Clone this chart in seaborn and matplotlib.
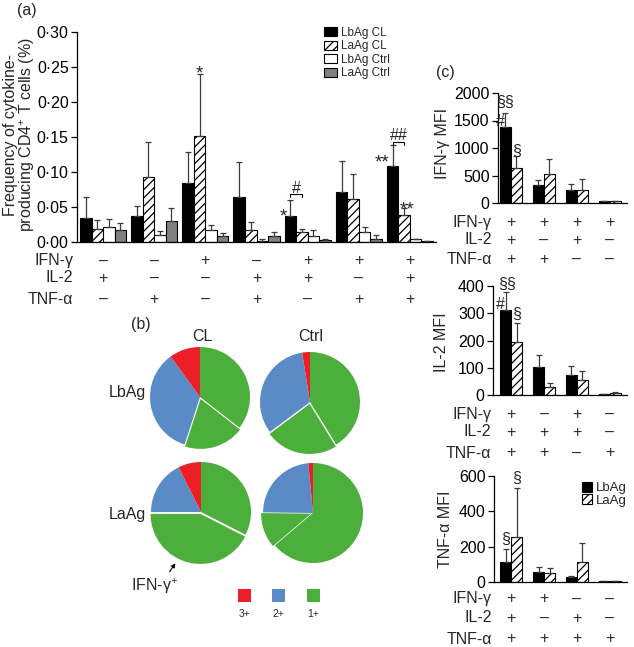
import numpy as np
import pandas as pd
import matplotlib
matplotlib.use('Agg')
import matplotlib.pyplot as plt
import matplotlib.transforms as mtransforms
from matplotlib.patches import Patch, Rectangle
from matplotlib.ticker import FuncFormatter
import seaborn as sns

# ---- panel (a): frequency of cytokine-producing CD4+ T cells
series_a = ['LbAg CL', 'LaAg CL', 'LbAg Ctrl', 'LaAg Ctrl']
combos_a = ['c1', 'c2', 'c3', 'c4', 'c5', 'c6', 'c7']
ifn_row_a = ['–', '–', '+', '–', '+', '+', '+']
il2_row_a = ['+', '–', '–', '+', '+', '–', '+']
tnf_row_a = ['–', '+', '–', '+', '–', '+', '+']

lbag_cl = [0.035, 0.037, 0.085, 0.065, 0.037, 0.072, 0.109]
lbag_cl_sem = [0.029, 0.015, 0.043, 0.050, 0.023, 0.044, 0.029]
laag_cl = [0.018, 0.093, 0.152, 0.017, 0.014, 0.061, 0.039]
laag_cl_sem = [0.013, 0.050, 0.088, 0.011, 0.005, 0.036, 0.009]
lbag_ctrl = [0.022, 0.010, 0.017, 0.002, 0.008, 0.014, 0.004]
lbag_ctrl_sem = [0.011, 0.006, 0.008, 0.002, 0.009, 0.007, 0.001]
laag_ctrl = [0.017, 0.030, 0.008, 0.008, 0.003, 0.005, 0.001]
laag_ctrl_sem = [0.010, 0.018, 0.005, 0.006, 0.001, 0.005, 0.0005]

# ---- panel (b): pie fractions (%), clockwise from 12 o'clock:
# other 1+, IFN-g+ 1+, 2+, 3+
pie_lbag_cl = [35.5, 19.5, 35.0, 10.0]
pie_lbag_ctrl = [41.2, 23.6, 32.7, 2.5]
pie_laag_cl = [32.5, 42.5, 17.6, 7.4]
pie_laag_ctrl = [63.8, 11.4, 23.3, 1.5]
pie_colors = ['#4cae3b', '#4cae3b', '#5b8bc6', '#ed1f26']

# ---- panel (c): MFI
series_c = ['LbAg', 'LaAg']
combos_c = ['p1', 'p2', 'p3', 'p4']
ifn_lb = [1373, 331, 241, 30]
ifn_lb_sem = [272, 91, 108, 5]
ifn_la = [645, 530, 241, 28]
ifn_la_sem = [216, 277, 199, 5]
il2_lb = [311, 103, 73, 2]
il2_lb_sem = [66, 45, 32, 1]
il2_la = [193, 29, 56, 9]
il2_la_sem = [70, 14, 32, 3]
tnf_lb = [111, 55, 26, 7]
tnf_lb_sem = [77, 30, 6, 1]
tnf_la = [252, 51, 113, 5]
tnf_la_sem = [278, 28, 107, 1]

W, H = 634, 647
sns.set_style('ticks')
plt.rcParams['font.family'] = ['Liberation Sans', 'DejaVu Sans']
plt.rcParams['mathtext.fontset'] = 'custom'
plt.rcParams['mathtext.rm'] = 'Liberation Sans'
plt.rcParams['mathtext.default'] = 'regular'
plt.rcParams['hatch.linewidth'] = 0.9
plt.rcParams['axes.linewidth'] = 0.9

fig = plt.figure(figsize=(W / 100, H / 100), dpi=100)
FS = 11.5
STAR = 13.5


def px_axes(x0, y0, x1, y1):
    return fig.add_axes([x0 / W, 1 - y1 / H, (x1 - x0) / W, (y1 - y0) / H])


def style_axis(ax):
    sns.despine(ax=ax)
    ax.set_xticks([])
    ax.set_xlabel('')
    ax.set_ylabel('')
    ax.tick_params(axis='y', length=4, width=0.9, pad=2, labelsize=FS, colors='black')
    ax.spines['left'].set_color('black')
    ax.spines['bottom'].set_color('black')


def add_errors(ax, containers, sems):
    for cont, s in zip(containers, sems):
        xs = [b.get_x() + b.get_width() / 2 for b in cont]
        hs = [b.get_height() for b in cont]
        ax.errorbar(xs, hs, yerr=[np.zeros(len(s)), s], fmt='none', ecolor='#3c3c3c',
                    elinewidth=0.9, capsize=2.5, capthick=0.9, zorder=1)


def sign_table(ax, rows, labels, ys, label_x):
    trans = mtransforms.blended_transform_factory(ax.transData, fig.transFigure)
    for row, lab, y in zip(rows, labels, ys):
        fig.text(label_x / W, 1 - y / H, lab, ha='right', va='center', fontsize=FS)
        for i, s in enumerate(row):
            ax.text(i, 1 - y / H, s, transform=trans, ha='center', va='center',
                    fontsize=FS, clip_on=False)


def bar_xy(containers, hue_i, group_i):
    b = containers[hue_i][group_i]
    return b.get_x() + b.get_width() / 2, b.get_height()


def bracket(ax, x1, x2, y, d, label):
    ax.plot([x1, x1, x2, x2], [y - d, y, y, y - d], color='black', lw=0.8)
    ax.text((x1 + x2) / 2, y + d * 0.6, label, ha='center', va='baseline', fontsize=FS)


# ================= panel (a)
df_a = pd.DataFrame({
    'combo': combos_a * 4,
    'series': np.repeat(series_a, len(combos_a)),
    'value': lbag_cl + laag_cl + lbag_ctrl + laag_ctrl,
})
pal_a = {'LbAg CL': 'black', 'LaAg CL': 'white', 'LbAg Ctrl': 'white', 'LaAg Ctrl': '#808080'}

ax_a = px_axes(77, 32, 436, 242)
sns.barplot(data=df_a, x='combo', y='value', hue='series', order=combos_a,
            hue_order=series_a, palette=pal_a, saturation=1, width=0.9,
            errorbar=None, edgecolor='black', linewidth=0.8, legend=False, ax=ax_a)
conts_a = list(ax_a.containers)
for b in conts_a[1]:
    b.set_hatch('////')
add_errors(ax_a, conts_a, [lbag_cl_sem, laag_cl_sem, lbag_ctrl_sem, laag_ctrl_sem])
ax_a.set_xlim(-0.51, 6.51)
ax_a.set_ylim(0, 0.30)
ax_a.set_yticks(np.arange(0, 0.301, 0.05))
ax_a.yaxis.set_major_formatter(FuncFormatter(lambda v, p: f'{v:.2f}'.replace('.', '·')))
style_axis(ax_a)

sign_table(ax_a, [ifn_row_a, il2_row_a, tnf_row_a], ['IFN-γ', 'IL-2', 'TNF-α'],
           [261, 278, 299], 73)

fig.text(20 / W, 1 - 135 / H, 'Frequency of cytokine-\nproducing CD4$^{+}$ T cells (%)',
         rotation=90, ha='center', va='center', fontsize=FS, linespacing=1.0)
fig.text(27 / W, 1 - 10 / H, '(a)', ha='center', va='center', fontsize=FS)

# annotations (a)
x, h = bar_xy(conts_a, 1, 2)
ax_a.text(x, 0.233, '*', ha='center', va='baseline', fontsize=STAR)
x, h = bar_xy(conts_a, 0, 4)
ax_a.text(x - 0.14, 0.030, '*', ha='center', va='baseline', fontsize=STAR)
x2, _ = bar_xy(conts_a, 1, 4)
bracket(ax_a, x, x2, 0.068, 0.004, '#')
x, h = bar_xy(conts_a, 0, 6)
ax_a.text(x - 0.2, 0.106, '**', ha='center', va='baseline', fontsize=STAR)
x2, _ = bar_xy(conts_a, 1, 6)
ax_a.text(x2 + 0.05, 0.040, '**', ha='center', va='baseline', fontsize=STAR)
bracket(ax_a, x, x2, 0.143, 0.004, '##')

handles_a = [Patch(facecolor=pal_a[s], edgecolor='black', linewidth=0.8,
                   hatch='////' if s == 'LaAg CL' else None) for s in series_a]
ax_a.legend(handles_a, series_a, loc='upper left', bbox_to_anchor=(324 / W, 1 - 27 / H),
            bbox_transform=fig.transFigure, frameon=False, fontsize=8.5,
            handlelength=1.1, handleheight=0.8, labelspacing=0.12, handletextpad=0.3,
            borderpad=0, borderaxespad=0)

# ================= panel (b)
R = 50
pies = [(pie_lbag_cl, 200, 397), (pie_lbag_ctrl, 310, 402),
        (pie_laag_cl, 201, 512), (pie_laag_ctrl, 313, 513)]
for vals, cx, cy in pies:
    s = 1.25 * R
    axp = px_axes(cx - s, cy - s, cx + s, cy + s)
    axp.pie(vals, colors=pie_colors, startangle=90, counterclock=False,
            explode=[0, 0.04, 0, 0], wedgeprops=dict(linewidth=0))

fig.text(141 / W, 1 - 324 / H, '(b)', ha='center', va='center', fontsize=FS)
fig.text(202 / W, 1 - 337 / H, 'CL', ha='center', va='center', fontsize=FS)
fig.text(311 / W, 1 - 337 / H, 'Ctrl', ha='center', va='center', fontsize=FS)
fig.text(127 / W, 1 - 393 / H, 'LbAg', ha='center', va='center', fontsize=FS)
fig.text(127 / W, 1 - 515 / H, 'LaAg', ha='center', va='center', fontsize=FS)
fig.text(155 / W, 1 - 586 / H, 'IFN-γ$^{+}$', ha='center', va='center', fontsize=FS)
ax_a.annotate('', xy=(177, H - 561), xytext=(168, H - 574), xycoords='figure pixels',
              textcoords='figure pixels',
              arrowprops=dict(arrowstyle='-|>', color='black', lw=0.8, mutation_scale=6))

for col, lab, x0 in [(pie_colors[3], '3+', 238), (pie_colors[2], '2+', 272), (pie_colors[0], '1+', 307)]:
    fig.add_artist(Rectangle((x0 / W, 1 - 602 / H), 13 / W, 13 / H, transform=fig.transFigure,
                             facecolor=col, edgecolor='none'))
    fig.text((x0 + 6.5) / W, 1 - 614 / H, lab, ha='center', va='center', fontsize=7.5)


# ================= panel (c)
def mfi_panel(rect, lb, la, lb_sem, la_sem, ymax, ystep, xleft):
    df = pd.DataFrame({
        'combo': combos_c * 2,
        'series': np.repeat(series_c, len(combos_c)),
        'value': lb + la,
    })
    ax = px_axes(*rect)
    sns.barplot(data=df, x='combo', y='value', hue='series', order=combos_c,
                hue_order=series_c, palette={'LbAg': 'black', 'LaAg': 'white'},
                saturation=1, width=0.67, errorbar=None, edgecolor='black',
                linewidth=0.8, legend=False, ax=ax)
    conts = list(ax.containers)
    for b in conts[1]:
        b.set_hatch('////')
    add_errors(ax, conts, [lb_sem, la_sem])
    ax.set_xlim(xleft, 3.52)
    ax.set_ylim(0, ymax)
    ax.set_yticks(np.arange(0, ymax + 1, ystep))
    style_axis(ax)
    return ax, conts


ax_c1, conts_c1 = mfi_panel((498, 93, 627, 203), ifn_lb, ifn_la, ifn_lb_sem, ifn_la_sem,
                            2000, 500, -0.39)
sign_table(ax_c1, [['+', '+', '+', '+'], ['+', '–', '+', '–'], ['+', '+', '–', '–']],
           ['IFN-γ', 'IL-2', 'TNF-α'], [222, 240, 259], 492)
fig.text(442 / W, 1 - 143 / H, 'IFN-γ MFI', rotation=90, ha='center', va='center', fontsize=FS)
fig.text(445 / W, 1 - 72 / H, '(c)', ha='center', va='center', fontsize=FS)
x, _ = bar_xy(conts_c1, 0, 0)
ax_c1.text(x, 1745, '§§', ha='center', va='baseline', fontsize=FS)
ax_c1.text(x - 0.14, 1394, '#', ha='center', va='baseline', fontsize=FS)
x, _ = bar_xy(conts_c1, 1, 0)
ax_c1.text(x, 854, '§', ha='center', va='baseline', fontsize=FS)

ax_c2, conts_c2 = mfi_panel((493, 286, 627, 395), il2_lb, il2_la, il2_lb_sem, il2_la_sem,
                            400, 100, -0.55)
sign_table(ax_c2, [['+', '–', '+', '–'], ['+', '+', '+', '–'], ['+', '+', '–', '+']],
           ['IFN-γ', 'IL-2', 'TNF-α'], [414, 432, 453], 491)
fig.text(442 / W, 1 - 342 / H, 'IL-2 MFI', rotation=90, ha='center', va='center', fontsize=FS)
x, _ = bar_xy(conts_c2, 0, 0)
ax_c2.text(x + 0.05, 389, '§§', ha='center', va='baseline', fontsize=FS)
ax_c2.text(x - 0.17, 314, '#', ha='center', va='baseline', fontsize=FS)
x, _ = bar_xy(conts_c2, 1, 0)
ax_c2.text(x, 279, '§', ha='center', va='baseline', fontsize=FS)

ax_c3, conts_c3 = mfi_panel((494, 476, 627, 582), tnf_lb, tnf_la, tnf_lb_sem, tnf_la_sem,
                            600, 200, -0.52)
sign_table(ax_c3, [['+', '+', '–', '–'], ['+', '–', '+', '–'], ['+', '+', '+', '+']],
           ['IFN-γ', 'IL-2', 'TNF-α'], [599, 618, 639], 492)
fig.text(445 / W, 1 - 529 / H, 'TNF-α MFI', rotation=90, ha='center', va='center', fontsize=FS)
x, _ = bar_xy(conts_c3, 0, 0)
ax_c3.text(x, 215, '§', ha='center', va='baseline', fontsize=FS)
x, _ = bar_xy(conts_c3, 1, 0)
ax_c3.text(x, 560, '§', ha='center', va='baseline', fontsize=FS)

handles_c = [Patch(facecolor='black', edgecolor='black', linewidth=0.8),
             Patch(facecolor='white', edgecolor='black', linewidth=0.8, hatch='////')]
ax_c3.legend(handles_c, series_c, loc='upper left', bbox_to_anchor=(582 / W, 1 - 482 / H),
             bbox_transform=fig.transFigure, frameon=False, fontsize=9.5,
             handlelength=0.75, handleheight=0.75, labelspacing=0.0, handletextpad=0.3,
             borderpad=0, borderaxespad=0)

fig.savefig('out.png', dpi=100)
